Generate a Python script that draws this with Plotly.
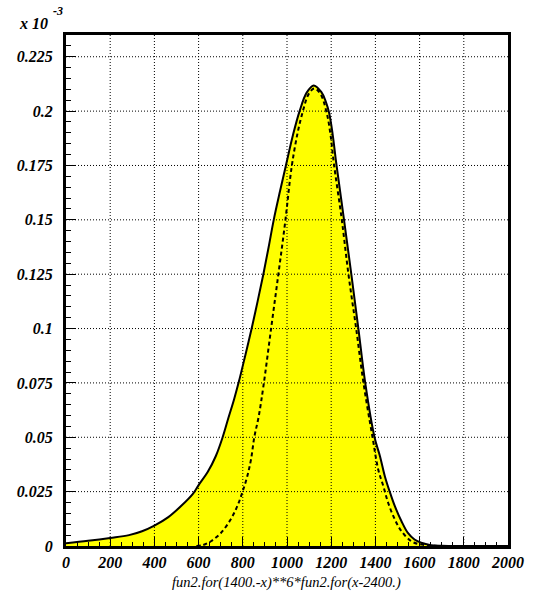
import plotly.graph_objects as go

# ---- data (values in units of 1e-3) ----
x_solid = [0, 100, 200, 285, 344, 400, 463, 523, 575, 600, 641, 678, 708, 735, 760, 782,
           812, 840, 867, 893, 917, 940, 968, 995, 1027, 1057, 1089, 1121, 1155, 1175,
           1191, 1207, 1223, 1258, 1291, 1323, 1354, 1396, 1421, 1443, 1465, 1488, 1518,
           1547, 1577, 1607, 1651, 1700, 1800, 1900, 2000]
y_solid = [0.0013, 0.0024, 0.0037, 0.0050, 0.0068, 0.0094, 0.0133, 0.0186, 0.0241, 0.0280,
           0.0340, 0.0414, 0.0498, 0.059, 0.0673, 0.0755, 0.088, 0.100, 0.1125, 0.125,
           0.1375, 0.150, 0.163, 0.175, 0.189, 0.200, 0.2085, 0.2118, 0.2088, 0.2045,
           0.199, 0.189, 0.176, 0.150, 0.125, 0.100, 0.075, 0.050, 0.0412, 0.032, 0.0249,
           0.0183, 0.0114, 0.006, 0.003, 0.0015, 0.0004, 0.0001, 0.0, 0.0, 0.0]

x_dash = [590, 619, 656, 701, 745, 775, 798, 820, 837, 852, 872, 894, 928, 961, 993, 1013,
          1025, 1048, 1072, 1098, 1124, 1152, 1180, 1197, 1212, 1248, 1278, 1313, 1346, 1387,
          1413, 1436, 1458, 1488, 1518, 1562, 1600, 1650, 1700]
y_dash = [0.0, 0.0004, 0.0022, 0.006, 0.0122, 0.0183, 0.0247, 0.032, 0.0397, 0.050, 0.0596,
          0.074, 0.100, 0.125, 0.150, 0.168, 0.177, 0.190, 0.200, 0.2078, 0.2104, 0.2078,
          0.199, 0.189, 0.176, 0.150, 0.125, 0.100, 0.075, 0.050, 0.0351, 0.0275, 0.0198,
          0.0122, 0.0068, 0.0022, 0.0008, 0.0002, 0.0]

x_ticks = [0, 200, 400, 600, 800, 1000, 1200, 1400, 1600, 1800, 2000]
x_ticklabels = ["0", "200", "400", "600", "800", "1000", "1200", "1400", "1600", "1800", "2000"]
y_ticks = [0, 0.025, 0.05, 0.075, 0.1, 0.125, 0.15, 0.175, 0.2, 0.225]
y_ticklabels = ["0", "0.025", "0.05", "0.075", "0.1", "0.125", "0.15", "0.175", "0.2", "0.225"]

x_title = "fun2.for(1400.-x)**6*fun2.for(x-2400.)"
exp_label = "x 10"
exp_sup = "-3"

W, H = 536, 592
L, R, T, B = 66, 21, 35, 46
X_RANGE = [0, 2000]
Y_RANGE = [0, 0.235]
SERIF = "Liberation Serif"


def bi(s):
    return "<b><i>" + s + "</i></b>"


fig = go.Figure()
fig.add_trace(go.Scatter(
    x=x_solid, y=y_solid, mode="lines", fill="tozeroy", fillcolor="#ffff00",
    line=dict(color="black", width=2, shape="spline", smoothing=1.0),
    showlegend=False, hoverinfo="skip"))
fig.add_trace(go.Scatter(
    x=x_dash, y=y_dash, mode="lines",
    line=dict(color="black", width=2, dash="4px,3px", shape="spline", smoothing=1.0),
    showlegend=False, hoverinfo="skip"))

tick_font = dict(family=SERIF, size=16, color="black")

# grid drawn above the fill (as in the reference)
shapes = []
for v in x_ticks[1:-1]:
    shapes.append(dict(type="line", xref="x", yref="paper", x0=v, x1=v, y0=0, y1=1,
                       line=dict(color="black", width=1, dash="1px,2px"), layer="above"))
for v in y_ticks[1:]:
    shapes.append(dict(type="line", xref="paper", yref="y", x0=0, x1=1, y0=v, y1=v,
                       line=dict(color="black", width=1, dash="1px,2px"), layer="above"))

plot_w = W - L - R
plot_h = H - T - B


def px_x(p):
    return (p - L) / plot_w


def px_y(p):
    return ((H - B) - p) / plot_h


fig.update_layout(
    width=W, height=H,
    margin=dict(l=L, r=R, t=T, b=B, pad=0),
    paper_bgcolor="white", plot_bgcolor="white",
    font=dict(family=SERIF, color="black"),
    shapes=shapes,
    xaxis=dict(range=X_RANGE, tickvals=x_ticks, ticktext=[bi(t) for t in x_ticklabels],
               showgrid=False, zeroline=False, showline=True, linecolor="black",
               linewidth=3, mirror=True, ticks="inside", ticklen=9, tickwidth=1,
               tickcolor="black", tickfont=tick_font, layer="above traces",
               minor=dict(dtick=50, ticks="inside", ticklen=4, tickcolor="black",
                          tickwidth=1, showgrid=False)),
    yaxis=dict(range=Y_RANGE, tickvals=y_ticks, ticktext=[bi(t) for t in y_ticklabels],
               showgrid=False, zeroline=False, showline=True, linecolor="black",
               linewidth=3, mirror=True, ticks="inside", ticklen=10, tickwidth=1,
               tickcolor="black", tickfont=tick_font, layer="above traces",
               ticklabelstandoff=7,
               minor=dict(dtick=0.005, ticks="inside", ticklen=5, tickcolor="black",
                          tickwidth=1, showgrid=False)),
    annotations=[
        dict(text="<i>" + x_title + "</i>", xref="paper", yref="paper", x=px_x(290),
             y=px_y(582), xanchor="center", yanchor="middle",
             showarrow=False,
             font=dict(family=SERIF, size=14.5, color="black")),
        dict(text=bi(exp_label), xref="paper", yref="paper",
             x=px_x(16), y=px_y(23), xanchor="left", yanchor="middle", showarrow=False,
             font=dict(family=SERIF, size=16, color="black")),
        dict(text=bi(exp_sup), xref="paper", yref="paper",
             x=px_x(51), y=px_y(11), xanchor="left", yanchor="middle", showarrow=False,
             font=dict(family=SERIF, size=12, color="black")),
    ],
)

fig.write_html("out.html")
